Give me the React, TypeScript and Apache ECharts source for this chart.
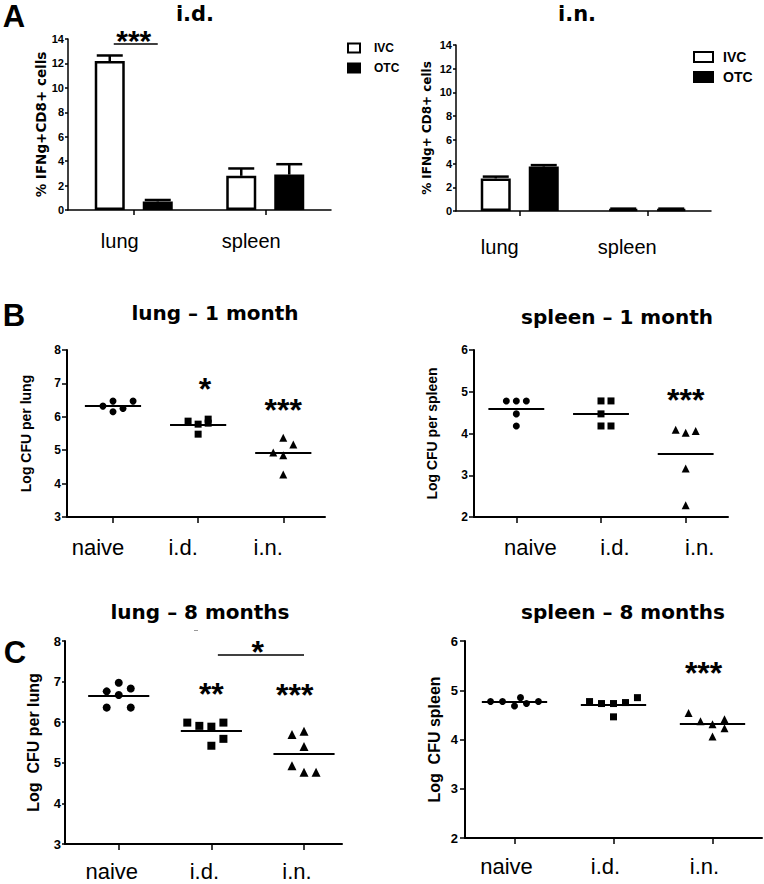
import React, { useEffect, useRef } from "react";
import * as echarts from "echarts";

// ---------- Data ----------
// Panel A: % IFNg+ CD8+ cells
const barCategories = ["lung", "spleen"];
const idIVC = [12.2, 2.8];
const idIVCErr = [0.45, 0.6];
const idOTC = [0.7, 2.9];
const idOTCErr = [0.12, 0.85];
const inIVC = [2.75, 0.15];
const inIVCErr = [0.15, 0.05];
const inOTC = [3.75, 0.15];
const inOTCErr = [0.12, 0.05];

// Panels B & C: Log CFU
const groups = ["naive", "i.d.", "i.n."];

// B – lung, 1 month
const lung1Naive = [6.32, 6.47, 6.15, 6.25, 6.47];
const lung1NaiveJitter = [-1, 0, 0, 1, 2];
const lung1Id = [5.87, 5.78, 5.93, 5.81, 5.48];
const lung1IdJitter = [-1, 0, 1, 1, 0];
const lung1In = [4.93, 5.37, 4.85, 5.17, 4.27];
const lung1InJitter = [-1, 0, 0, 1, 0];

// B – spleen, 1 month
const spleen1Naive = [4.78, 4.78, 4.78, 4.47, 4.18];
const spleen1NaiveJitter = [-1, 0, 1, 0, 0];
const spleen1Id = [4.78, 4.78, 4.47, 4.18, 4.18];
const spleen1IdJitter = [0, 1, 0, 0, 1];
const spleen1In = [4.09, 4.02, 4.06, 3.16, 2.28];
const spleen1InJitter = [-1, 0, 1, 0, 0];

// C – lung, 8 months
const lung8Naive = [6.76, 6.97, 6.83, 6.67, 6.36, 6.36];
const lung8NaiveJitter = [-1, 0, 1, 0, -1, 1];
const lung8Id = [5.99, 5.91, 5.89, 5.99, 5.59, 5.42];
const lung8IdJitter = [-2, -1, 0, 1, 1, 0];
const lung8In = [5.7, 5.78, 5.4, 4.93, 4.77, 4.77];
const lung8InJitter = [-1, 0, 0, -1, 0, 1];

// C – spleen, 8 months
const spleen8Naive = [4.77, 4.77, 4.68, 4.85, 4.73, 4.77];
const spleen8NaiveJitter = [-2, -1, 0, 0.5, 1, 2];
const spleen8Id = [4.77, 4.73, 4.73, 4.46, 4.75, 4.85];
const spleen8IdJitter = [-2, -1, 0, 0, 1, 2];
const spleen8In = [4.54, 4.37, 4.31, 4.06, 4.41, 4.23];
const spleen8InJitter = [-2, -1, 0, 0, 1, 1];

// significance annotations [x, y, text]
const idStars = [["lung", 13.84, "***"]];
const lung1Stars = [[2.08, 6.84, "*"], [3.0, 6.2, "***"]];
const spleen1Stars = [[3.0, 4.8, "***"]];
const lung8Stars = [[2.0, 6.7, "**"], [2.9, 6.67, "***"], [2.5, 7.72, "*"]];
const lung8Bracket = [[2.07, 7.66], [3.0, 7.66]];
const spleen8Stars = [[2.91, 5.36, "***"]];

// ---------- Styles ----------
const SANS = '"Liberation Sans", Arial, Helvetica, sans-serif';
const WIDE = '"DejaVu Sans", Verdana, sans-serif';
const BAR_W = 30;
const BAR_GAP = 0.6;

const mean = (a: number[]) => a.reduce((s, v) => s + v, 0) / a.length;

function barYAxis(gridIndex: number, name: string, nameGap: number, nameSize: number) {
  return {
    type: "value",
    gridIndex,
    min: 0,
    max: 14,
    interval: 2,
    name,
    nameLocation: "middle",
    nameGap,
    nameRotate: 90,
    nameTextStyle: { fontFamily: WIDE, fontWeight: "bold", fontSize: nameSize, color: "#000" },
    axisLine: { show: true, onZero: false, lineStyle: { color: "#000", width: 1.5 } },
    axisTick: { show: true, length: 3, lineStyle: { color: "#000", width: 1.5 } },
    axisLabel: { fontFamily: SANS, fontWeight: "bold", fontSize: 11, color: "#000", margin: 4 },
    splitLine: { show: false },
  };
}

function barXAxis(gridIndex: number, margin: number, shift: number) {
  return {
    type: "category",
    gridIndex,
    data: barCategories,
    axisLine: { show: true, onZero: false, lineStyle: { color: "#000", width: 1.5 } },
    axisTick: { show: true, alignWithLabel: true, length: 5, lineStyle: { color: "#000", width: 1.5 } },
    axisLabel: {
      fontFamily: SANS,
      fontSize: 20,
      color: "#000",
      margin,
      padding: shift < 0 ? [0, -2 * shift, 0, 0] : [0, 0, 0, 2 * shift],
    },
    splitLine: { show: false },
  };
}

function catXAxis(gridIndex: number, min: number, max: number, margin: number, shift: number) {
  return {
    type: "value",
    gridIndex,
    min,
    max,
    axisLine: { show: true, onZero: false, lineStyle: { color: "#000", width: 2 } },
    axisTick: { show: true, length: 6, customValues: [1, 2, 3], lineStyle: { color: "#000", width: 1.5 } },
    axisLabel: {
      customValues: [1, 2, 3],
      formatter: (v: number) => groups[Math.round(v) - 1] ?? "",
      fontFamily: SANS,
      fontSize: 22,
      color: "#000",
      margin,
      padding: shift < 0 ? [0, -2 * shift, 0, 0] : [0, 0, 0, 2 * shift],
    },
    splitLine: { show: false },
  };
}

function cfuYAxis(
  gridIndex: number,
  min: number,
  max: number,
  name: string,
  nameGap: number,
  nameSize: number,
  labelSize: number,
  tickLen: number,
  labelMargin: number
) {
  return {
    type: "value",
    gridIndex,
    min,
    max,
    interval: 1,
    name,
    nameLocation: "middle",
    nameGap,
    nameRotate: 90,
    nameTextStyle: { fontFamily: SANS, fontWeight: "bold", fontSize: nameSize, color: "#000" },
    axisLine: { show: true, onZero: false, lineStyle: { color: "#000", width: 2 } },
    axisTick: { show: true, length: tickLen, lineStyle: { color: "#000", width: 1.5 } },
    axisLabel: { fontFamily: SANS, fontWeight: "bold", fontSize: labelSize, color: "#000", margin: labelMargin },
    splitLine: { show: false },
  };
}

function barSeries(gridIndex: number, name: string, data: number[], fill: string) {
  return {
    type: "bar",
    name,
    xAxisIndex: gridIndex,
    yAxisIndex: gridIndex,
    data,
    barWidth: BAR_W,
    barGap: BAR_GAP * 100 + "%",
    itemStyle: { color: fill, borderColor: "#000", borderWidth: 2.5, opacity: 1 },
    emphasis: { disabled: true },
    z: 2,
  };
}

function errSeries(gridIndex: number, means: number[], errs: number[], side: number) {
  const off = (side * (BAR_W + BAR_W * BAR_GAP)) / 2;
  return {
    type: "custom",
    xAxisIndex: gridIndex,
    yAxisIndex: gridIndex,
    silent: true,
    clip: false,
    z: 3,
    data: means.map((m, i) => [i, m, m + errs[i]]),
    renderItem: (_p: any, api: any) => {
      const base = api.coord([api.value(0), api.value(1)]);
      const top = api.coord([api.value(0), api.value(2)]);
      const x = base[0] + off;
      return {
        type: "group",
        children: [
          { type: "line", shape: { x1: x, y1: base[1], x2: x, y2: top[1] }, style: { stroke: "#000", lineWidth: 2.5 } },
          { type: "line", shape: { x1: x - 13, y1: top[1], x2: x + 13, y2: top[1] }, style: { stroke: "#000", lineWidth: 2.5 } },
        ],
      };
    },
  };
}

function bracketSeries(gridIndex: number, catIndex: number, y: number) {
  const off = (BAR_W + BAR_W * BAR_GAP) / 2;
  return {
    type: "custom",
    xAxisIndex: gridIndex,
    yAxisIndex: gridIndex,
    silent: true,
    clip: false,
    z: 3,
    data: [[catIndex, y]],
    renderItem: (_p: any, api: any) => {
      const p = api.coord([api.value(0), api.value(1)]);
      return {
        type: "line",
        shape: { x1: p[0] - off + 4, y1: p[1], x2: p[0] + off, y2: p[1] },
        style: { stroke: "#000", lineWidth: 1.5 },
      };
    },
  };
}

function groupSeries(
  gridIndex: number,
  cat: number,
  values: number[],
  jitter: number[],
  step: number,
  symbol: string,
  size: number
) {
  const m = mean(values);
  return {
    type: "scatter",
    xAxisIndex: gridIndex,
    yAxisIndex: gridIndex,
    symbol,
    symbolSize: size,
    itemStyle: { color: "#000", opacity: 1 },
    emphasis: { disabled: true },
    silent: true,
    data: values.map((v, i) => [cat + jitter[i] * step, v]),
    markLine: {
      silent: true,
      symbol: ["none", "none"],
      label: { show: false },
      lineStyle: { color: "#000", width: 2, type: "solid", opacity: 1 },
      emphasis: { disabled: true },
      data: [[{ coord: [cat - 0.33, m] }, { coord: [cat + 0.33, m] }]],
    },
    z: 3,
  };
}

function starSeries(gridIndex: number, items: any[], fontSize: number, bracket?: number[][]) {
  const s: any = {
    type: "scatter",
    xAxisIndex: gridIndex,
    yAxisIndex: gridIndex,
    symbolSize: 1,
    silent: true,
    clip: false,
    itemStyle: { color: "rgba(0,0,0,0)", opacity: 1 },
    emphasis: { disabled: true },
    data: items.map((a) => ({ value: [a[0], a[1]], label: { formatter: a[2] } })),
    label: {
      show: true,
      position: "inside",
      color: "#000",
      opacity: 1,
      textBorderWidth: 0,
      fontFamily: SANS,
      fontWeight: "bold",
      fontSize,
    },
    z: 4,
  };
  if (bracket) {
    s.markLine = {
      silent: true,
      symbol: ["none", "none"],
      label: { show: false },
      lineStyle: { color: "#000", width: 1.5, type: "solid", opacity: 1 },
      data: [[{ coord: bracket[0] }, { coord: bracket[1] }]],
    };
  }
  return s;
}

function legend(left: number, top: number, w: number, h: number, gap: number, size: number, pad: number) {
  return {
    orient: "vertical",
    left,
    top,
    padding: 0,
    itemWidth: w,
    itemHeight: h,
    itemGap: gap,
    icon: "rect",
    selectedMode: false,
    data: [
      { name: "IVC", itemStyle: { color: "#fff", borderColor: "#000", borderWidth: 2 } },
      { name: "OTC", itemStyle: { color: "#000", borderColor: "#000", borderWidth: 2 } },
    ],
    textStyle: { fontFamily: SANS, fontWeight: "bold", fontSize: size, color: "#000", padding: [0, 0, 0, pad] },
  };
}

function label(text: string, x: number, y: number, size: number, family: string) {
  return {
    type: "text",
    x,
    y,
    silent: true,
    style: {
      text,
      fill: "#000",
      fontFamily: family,
      fontWeight: "bold",
      fontSize: size,
      textAlign: "center",
      align: "center",
      textVerticalAlign: "middle",
      verticalAlign: "middle",
    },
  };
}

export default function App() {
  const ref = useRef<HTMLDivElement>(null);

  useEffect(() => {
    if (!ref.current) return;
    const chart = echarts.init(ref.current, undefined, { renderer: "svg" });
    const stepB = 0.118;
    const stepC1 = 0.13;
    const stepC2 = 0.121;

    chart.setOption({
      animation: false,
      backgroundColor: "#fff",
      grid: [
        { left: 68, top: 39, width: 263, height: 171 },
        { left: 456, top: 45, width: 255, height: 166 },
        { left: 67, top: 350, width: 258, height: 167 },
        { left: 474, top: 350, width: 254, height: 167 },
        { left: 65, top: 641, width: 277, height: 203 },
        { left: 465, top: 641, width: 297, height: 197 },
      ],
      legend: [legend(347, 42, 12, 9, 8, 12, 9), legend(693, 50, 19, 10, 6, 14, 5)],
      xAxis: [
        barXAxis(0, 21, -14),
        barXAxis(1, 26, -20),
        catXAxis(2, 0.46, 3.49, 19, -15),
        catXAxis(3, 0.5, 3.5, 19, 14),
        catXAxis(4, 0.42, 3.41, 16, -7),
        catXAxis(5, 0.5, 3.5, 17, -8),
      ],
      yAxis: [
        barYAxis(0, "% IFNg+CD8+ cells", 17, 13.5),
        barYAxis(1, "% IFNg+ CD8+ cells", 23, 12),
        cfuYAxis(2, 3, 8, "Log CFU per lung", 34, 14, 12, 5, 6),
        cfuYAxis(3, 2, 6, "Log CFU per spleen", 35, 14, 12, 5, 6),
        cfuYAxis(4, 3, 8, "Log  CFU per lung", 24, 16, 13, 3, 4),
        cfuYAxis(5, 2, 6, "Log  CFU spleen", 23, 16, 13, 5, 7),
      ],
      series: [
        barSeries(0, "IVC", idIVC, "#fff"),
        barSeries(0, "OTC", idOTC, "#000"),
        errSeries(0, idIVC, idIVCErr, -1),
        errSeries(0, idOTC, idOTCErr, 1),
        bracketSeries(0, 0, 13.6),
        starSeries(0, idStars, 30),

        barSeries(1, "IVC", inIVC, "#fff"),
        barSeries(1, "OTC", inOTC, "#000"),
        errSeries(1, inIVC, inIVCErr, -1),
        errSeries(1, inOTC, inOTCErr, 1),

        groupSeries(2, 1, lung1Naive, lung1NaiveJitter, stepB, "circle", 7),
        groupSeries(2, 2, lung1Id, lung1IdJitter, stepB, "rect", 7),
        groupSeries(2, 3, lung1In, lung1InJitter, stepB, "triangle", 8),
        starSeries(2, lung1Stars, 32),

        groupSeries(3, 1, spleen1Naive, spleen1NaiveJitter, stepB, "circle", 7),
        groupSeries(3, 2, spleen1Id, spleen1IdJitter, stepB, "rect", 7),
        groupSeries(3, 3, spleen1In, spleen1InJitter, stepB, "triangle", 8),
        starSeries(3, spleen1Stars, 32),

        groupSeries(4, 1, lung8Naive, lung8NaiveJitter, stepC1, "circle", 8),
        groupSeries(4, 2, lung8Id, lung8IdJitter, stepC1, "rect", 8),
        groupSeries(4, 3, lung8In, lung8InJitter, stepC1, "triangle", 9),
        starSeries(4, lung8Stars, 32, lung8Bracket),

        groupSeries(5, 1, spleen8Naive, spleen8NaiveJitter, stepC2, "circle", 7),
        groupSeries(5, 2, spleen8Id, spleen8IdJitter, stepC2, "rect", 7),
        groupSeries(5, 3, spleen8In, spleen8InJitter, stepC2, "triangle", 8),
        starSeries(5, spleen8Stars, 32),
      ],
      graphic: [
        label("A", 14, 16, 31, SANS),
        label("i.d.", 195, 14, 21, WIDE),
        label("i.n.", 577, 14, 21, WIDE),
        label("B", 14, 315, 31, SANS),
        label("lung – 1 month", 215, 313, 20, WIDE),
        label("spleen – 1 month", 617, 317, 20, WIDE),
        label("C", 15, 652, 31, SANS),
        label("lung – 8 months", 200, 612, 20, WIDE),
        label("spleen – 8 months", 623, 612, 20, WIDE),
        { type: "rect", silent: true, shape: { x: 194, y: 630, width: 4, height: 1 }, style: { fill: "#999" } },
      ],
    });

    return () => chart.dispose();
  }, []);

  return (
    <div
      ref={ref}
      style={{ position: "absolute", left: 0, top: 0, width: 764, height: 884, background: "#fff" }}
    />
  );
}
